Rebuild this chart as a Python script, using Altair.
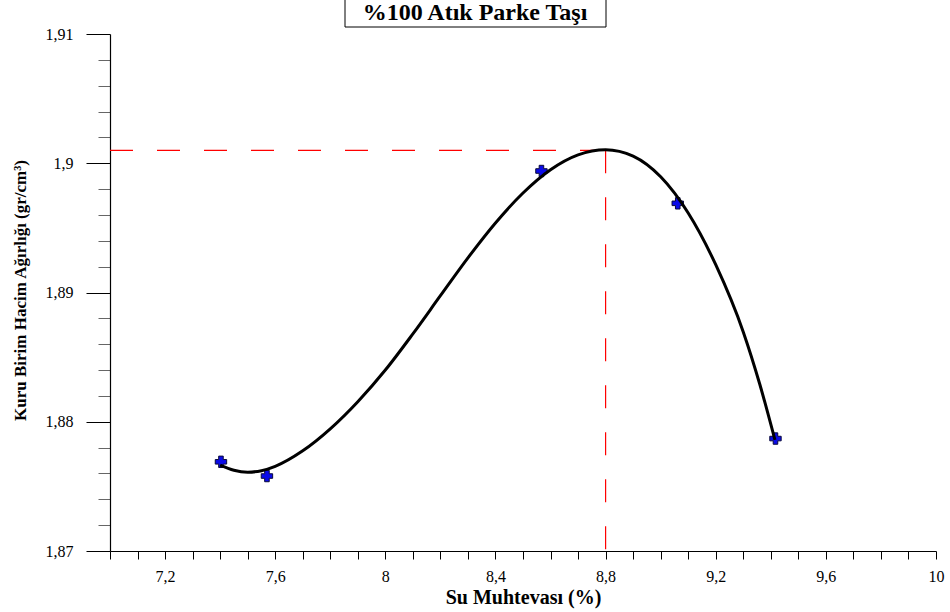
import altair as alt
import pandas as pd

# ---- data ----
moisture = [7.403, 7.570, 8.567, 9.062, 9.417]          # Su Muhtevası (%)
density = [1.8769, 1.8758, 1.8994, 1.8969, 1.8787]      # Kuru Birim Hacim Ağırlığı

curve_x = [7.40, 7.45, 7.50, 7.55, 7.60, 7.70, 7.80, 7.90, 8.00, 8.10, 8.20, 8.30, 8.40,
           8.50, 8.60, 8.70, 8.80, 8.90, 9.00, 9.10, 9.20, 9.30, 9.36, 9.415]
curve_y = [1.87665, 1.87625, 1.8761, 1.87621, 1.87655, 1.87775, 1.87945, 1.88155, 1.8840,
           1.8868, 1.88975, 1.89268, 1.89538, 1.8977, 1.8995, 1.90065, 1.90105, 1.90055,
           1.89895, 1.89615, 1.89215, 1.88695, 1.8829, 1.8786]

opt_moisture = 8.8
max_density = 1.901

x_domain = [7.0, 10.0]
y_domain = [1.87, 1.91]

x_tick_values = [round(7.0 + 0.1 * i, 1) for i in range(31)]
x_label_values = [7.2, 7.6, 8, 8.4, 8.8, 9.2, 9.6, 10]
y_major = [1.87, 1.88, 1.89, 1.90, 1.91]
y_minor = [round(1.87 + 0.002 * i, 3) for i in range(21) if i % 5 != 0]

title_text = "%100 Atık Parke Taşı"
x_title = "Su Muhtevası (%)"
y_title = "Kuru Birim Hacim Ağırlığı (gr/cm³)"

FONT = "Liberation Serif"

curve_df = pd.DataFrame({"x": curve_x, "y": curve_y})
pts_df = pd.DataFrame({"x": moisture, "y": density})
ref_df = pd.DataFrame({"x0": [x_domain[0]], "x": [opt_moisture],
                       "y": [max_density], "y0": [y_domain[0]]})
title_df = pd.DataFrame({"t": [title_text]})

xscale = alt.Scale(domain=x_domain, nice=False, zero=False)
yscale = alt.Scale(domain=y_domain, nice=False, zero=False)

label_list = "[" + ",".join(str(v) for v in x_label_values) + "]"
x_axis = alt.Axis(
    values=x_tick_values,
    labelExpr=f"indexof({label_list}, round(datum.value*10)/10) >= 0 ? "
              f"replace(format(round(datum.value*10)/10, '~g'), '.', ',') : ''",
    tickSize=8, tickColor="black", tickWidth=1,
    domainColor="black", domainWidth=1.2,
    labelFont=FONT, labelFontSize=16, labelColor="black", labelPadding=9,
    labelOverlap=False, labelFlush=False,
    title=x_title, titleFont=FONT, titleFontSize=20, titleFontWeight="bold",
    titleColor="black", titleX=413, titleY=46, titleAlign="center",
    titleBaseline="middle", grid=False,
)

y_axis_major = alt.Axis(
    orient="left", values=y_major,
    labelExpr="replace(format(datum.value, '~g'), '.', ',')",
    tickSize=24, tickColor="black", tickWidth=1,
    domainColor="black", domainWidth=1.2,
    labelFont=FONT, labelFontSize=16, labelColor="black", labelPadding=13,
    title=y_title, titleFont=FONT, titleFontSize=17, titleFontWeight="bold",
    titleColor="black", titleAngle=270, titleX=-90, titleY=256,
    titleAlign="center", titleBaseline="middle", grid=False,
)

y_axis_minor = alt.Axis(
    orient="left", values=y_minor, labels=False, domain=False,
    tickSize=12, tickColor="#666666", tickWidth=1, grid=False, title=None,
)

h_ref = alt.Chart(ref_df).mark_rule(color="red", strokeDash=[23, 24], strokeWidth=1.2).encode(
    x=alt.X("x0:Q", scale=xscale, axis=x_axis),
    x2="x:Q",
    y=alt.Y("y:Q", scale=yscale, axis=None),
)
v_ref = alt.Chart(ref_df).mark_rule(color="red", strokeDash=[23, 24], strokeWidth=1.2).encode(
    x=alt.X("x:Q", scale=xscale, axis=x_axis),
    y=alt.Y("y:Q", scale=yscale, axis=None),
    y2="y0:Q",
)

points = alt.Chart(pts_df).mark_point(
    shape="cross", filled=True, size=130, fill="#0b0be8", stroke="#0a0a3c",
    strokeWidth=1, opacity=1,
).encode(
    x=alt.X("x:Q", scale=xscale, axis=x_axis),
    y=alt.Y("y:Q", scale=yscale, axis=y_axis_minor),
)

curve = alt.Chart(curve_df).mark_line(color="black", strokeWidth=3, interpolate="monotone").encode(
    x=alt.X("x:Q", scale=xscale, axis=x_axis),
    y=alt.Y("y:Q", scale=yscale, axis=y_axis_major),
)

title_box = alt.Chart(title_df).mark_rect(fill="white", stroke="black", strokeWidth=1).encode(
    x=alt.value(235), x2=alt.value(496), y=alt.value(-36), y2=alt.value(-7),
)
title_mark = alt.Chart(title_df).mark_text(
    font=FONT, fontSize=24, fontWeight="bold", color="black",
    align="center", baseline="middle",
).encode(text="t:N", x=alt.value(365), y=alt.value(-21))

chart = alt.layer(h_ref, v_ref, points, curve, title_box, title_mark).resolve_scale(
    y="shared", x="shared"
).resolve_axis(y="independent").properties(
    width=826, height=517,
    padding={"left": 110, "top": 34, "right": 14, "bottom": 61},
    autosize=alt.AutoSizeParams(type="none"),
    background="white",
).configure_view(strokeWidth=0)

chart.save("out.html", embed_options={"renderer": "svg", "actions": False})
